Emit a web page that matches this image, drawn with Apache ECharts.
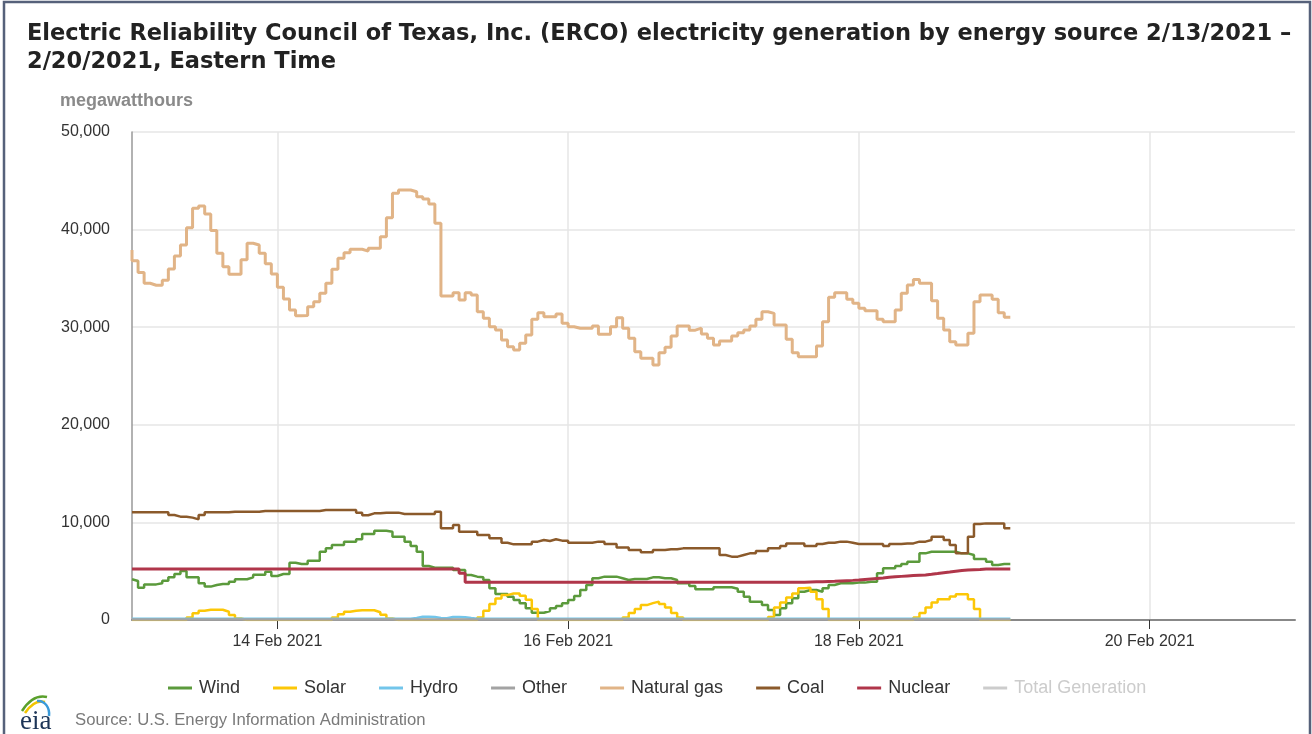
<!DOCTYPE html>
<html>
<head>
<meta charset="utf-8">
<title>ERCO electricity generation by energy source</title>
<script src="https://cdn.jsdelivr.net/npm/echarts@6/dist/echarts.min.js"></script>
<style>
  html, body { margin: 0; padding: 0; background: #fff; }
  #chart { width: 1312px; height: 734px; }
</style>
</head>
<body>
<div id="chart"></div>
<script>
// hourly values, hour ending, index 0 = 13 Feb 2021 00:00 Eastern
var hourLabels = ['14 Feb 2021', '16 Feb 2021', '18 Feb 2021', '20 Feb 2021']
var labelHours = [24, 72, 120, 168]

var naturalGas = [
  37900, 36800, 35600, 34500, 34300, 34300, 34800, 35960, 37300, 38420,
  40200, 42180, 42420, 41600, 39900, 37570, 36200, 35420, 35420, 36900,
  38600, 38420, 37570, 36500, 35450, 34090, 32890, 31760, 31180, 31200,
  32100, 32620, 33470, 34500, 35930, 37060, 37640, 37980, 37980, 37800,
  38080, 38080, 39270, 41220, 43720, 44060, 44060, 43880, 43370, 43130,
  42620, 40640, 33200, 33200, 33540, 32790, 33540, 33300, 31590, 30910,
  30050, 29710, 28690, 28000, 27660, 28350, 29200, 30810, 31490, 31080,
  31080, 31350, 30400, 30050, 29890, 29890, 29890, 30120, 29270, 29270,
  30050, 30980, 29890, 28860, 27490, 26810, 26810, 26130, 27390, 27940,
  29100, 30120, 30120, 29700, 29900, 29300, 28860, 28180, 28590, 28590,
  29100, 29440, 29710, 30120, 30810, 31590, 31420, 30230, 30230, 28760,
  27390, 26980, 26980, 26980, 28070, 30570, 33060, 33540, 33540, 32860,
  32450, 31930, 31690, 31690, 30810, 30570, 30570, 31760, 33470, 34320,
  34900, 34500, 34500, 32720, 30910, 29710, 28520, 28180, 28180, 29370,
  32620, 33300, 33300, 32860, 31490, 31010
]

var coal = [
  11030, 11030, 11030, 11030, 11030, 11030, 11030, 10760, 10590, 10590,
  10490, 10310, 10760, 11030, 11030, 11030, 11030, 11100, 11100, 11100,
  11100, 11100, 11170, 11170, 11170, 11170, 11170, 11170, 11170, 11170,
  11170, 11170, 11270, 11270, 11270, 11270, 11270, 11270, 11000, 10730,
  10930, 10930, 11000, 11000, 11000, 10860, 10860, 10860, 10860, 10860,
  10860, 11100, 9390, 9390, 9730, 9050, 9050, 9050, 8710, 8710,
  8370, 8370, 7920, 7750, 7750, 7750, 7750, 8030, 8200, 8100,
  8270, 8130, 8130, 7920, 7920, 7920, 7920, 8030, 8030, 7780,
  7780, 7440, 7440, 7170, 7170, 6930, 6930, 7170, 7170, 7240,
  7240, 7340, 7340, 7340, 7340, 7340, 7340, 7340, 6660, 6490,
  6490, 6660, 6830, 6830, 7070, 7070, 7340, 7340, 7580, 7850,
  7850, 7850, 7580, 7580, 7790, 7920, 7920, 8030, 8030, 7920,
  7790, 7790, 7790, 7790, 7790, 7580, 7790, 7790, 7850, 7850,
  8030, 8030, 8200, 8540, 8540, 8200, 7680, 6830, 6830, 8540,
  9840, 9900, 9900, 9900, 9900, 9390
]

var wind = [
  4170, 4000, 3310, 3650, 3650, 3760, 4030, 4370, 4710, 5020,
  4370, 4370, 3760, 3420, 3590, 3690, 3690, 3930, 4170, 4170,
  4370, 4640, 4640, 4950, 4510, 4710, 4710, 5870, 5740, 5740,
  6080, 6080, 7000, 7340, 7680, 7680, 8030, 8030, 8270, 8810,
  8810, 9150, 9150, 9050, 8540, 8540, 8030, 7580, 7000, 5530,
  5360, 5360, 5360, 5360, 5120, 5120, 4610, 4440, 4370, 4100,
  3250, 2660, 2660, 2390, 2050, 1710, 1200, 750, 750, 920,
  1200, 1430, 1710, 2050, 2460, 3070, 3590, 4270, 4440, 4440,
  4440, 4270, 4100, 4200, 4200, 4200, 4370, 4370, 4270, 4270,
  4100, 3760, 3760, 3490, 3140, 3140, 3140, 3350, 3350, 3350,
  3200, 2900, 2390, 1880, 1880, 1540, 1030, 510, 1200, 1710,
  2220, 2900, 3070, 3070, 2900, 3250, 3590, 3760, 3760, 3760,
  3830, 3830, 3930, 3930, 4780, 5290, 5290, 5530, 5740, 5980,
  5980, 6830, 7000, 7000, 7000, 7000, 7000, 6830, 6830, 6660,
  6250, 6250, 5980, 5640, 5740, 5740
]

var nuclear = [
  5230, 5230, 5230, 5230, 5230, 5230, 5230, 5230, 5230, 5230,
  5230, 5230, 5230, 5230, 5230, 5230, 5230, 5230, 5230, 5230,
  5230, 5230, 5230, 5230, 5230, 5230, 5230, 5230, 5230, 5230,
  5230, 5230, 5230, 5230, 5230, 5230, 5230, 5230, 5230, 5230,
  5230, 5230, 5230, 5230, 5230, 5230, 5230, 5230, 5230, 5230,
  5230, 5230, 5230, 5230, 5230, 4800, 3880, 3880, 3880, 3880,
  3880, 3880, 3880, 3880, 3880, 3880, 3880, 3880, 3880, 3880,
  3880, 3880, 3880, 3880, 3880, 3880, 3880, 3880, 3880, 3880,
  3880, 3880, 3880, 3880, 3880, 3880, 3880, 3880, 3880, 3880,
  3880, 3880, 3880, 3880, 3880, 3880, 3880, 3880, 3880, 3880,
  3880, 3880, 3880, 3880, 3880, 3880, 3880, 3880, 3880, 3880,
  3880, 3880, 3900, 3920, 3930, 3950, 3970, 4000, 4030, 4060,
  4100, 4150, 4200, 4250, 4300, 4370, 4420, 4470, 4510, 4550,
  4580, 4610, 4680, 4760, 4850, 4920, 5000, 5070, 5120, 5150,
  5180, 5220, 5220, 5220, 5220, 5220
]

var solar = [
  0, 0, 0, 0, 0, 0, 0, 0, 0, 0,
  250, 700, 950, 1050, 1050, 1050, 850, 500, 150, 0,
  0, 0, 0, 0, 0, 0, 0, 0, 0, 0,
  0, 0, 0, 0, 250, 600, 850, 950, 1000, 1000,
  1000, 800, 550, 150, 0, 0, 0, 0, 0, 0,
  0, 0, 0, 0, 0, 0, 0, 0, 260, 950,
  1630, 2200, 2550, 2720, 2720, 2480, 2070, 1120, 0, 0,
  0, 0, 0, 0, 0, 0, 0, 0, 0, 0,
  0, 0, 260, 710, 1120, 1530, 1730, 1880, 1630, 1290,
  710, 260, 0, 0, 0, 0, 0, 0, 0, 0,
  0, 0, 0, 0, 0, 0, 300, 1290, 1800, 2300,
  2720, 3250, 3300, 2900, 2130, 1120, 0, 0, 0, 0,
  0, 0, 0, 0, 0, 0, 0, 0, 0, 0,
  260, 710, 1290, 1800, 2130, 2130, 2400, 2640, 2640, 2130,
  1120, 0, 0, 0, 0, 0
]

var hydro = [
  130, 130, 130, 130, 130, 130, 130, 130, 130, 130,
  130, 130, 130, 130, 130, 130, 130, 130, 130, 130,
  130, 130, 130, 130, 130, 130, 130, 130, 130, 130,
  130, 130, 130, 130, 130, 130, 130, 130, 130, 130,
  130, 130, 130, 130, 130, 130, 130, 200, 330, 330,
  300, 200, 180, 300, 300, 280, 200, 130, 130, 130,
  130, 130, 130, 130, 130, 130, 130, 130, 130, 130,
  130, 130, 130, 130, 130, 130, 130, 130, 130, 130,
  130, 130, 130, 130, 130, 130, 130, 130, 130, 130,
  130, 130, 130, 130, 130, 130, 130, 130, 130, 130,
  130, 130, 130, 130, 130, 130, 130, 130, 130, 130,
  130, 130, 130, 130, 130, 130, 130, 130, 130, 130,
  130, 130, 130, 130, 130, 130, 130, 130, 130, 130,
  130, 130, 130, 130, 130, 130, 130, 130, 130, 130,
  130, 130, 130, 130, 130, 130
]

var other = [
  60, 60, 60, 60, 60, 60, 60, 60, 60, 60,
  60, 60, 60, 60, 60, 60, 60, 60, 60, 60,
  60, 60, 60, 60, 60, 60, 60, 60, 60, 60,
  60, 60, 60, 60, 60, 60, 60, 60, 60, 60,
  60, 60, 60, 60, 60, 60, 60, 60, 60, 60,
  60, 60, 60, 60, 60, 60, 60, 60, 60, 60,
  60, 60, 60, 60, 60, 60, 60, 60, 60, 60,
  60, 60, 60, 60, 60, 60, 60, 60, 60, 60,
  60, 60, 60, 60, 60, 60, 60, 60, 60, 60,
  60, 60, 60, 60, 60, 60, 60, 60, 60, 60,
  60, 60, 60, 60, 60, 60, 60, 60, 60, 60,
  60, 60, 60, 60, 60, 60, 60, 60, 60, 60,
  60, 60, 60, 60, 60, 60, 60, 60, 60, 60,
  60, 60, 60, 60, 60, 60, 60, 60, 60, 60,
  60, 60, 60, 60, 60, 60
]

var totalGeneration = []

var chart = echarts.init(document.getElementById('chart'))

function toPoints (arr) {
  return arr.map(function (v, i) { return [i, v] })
}

function lineSeries (name, data, color, width) {
  return {
    name: name,
    type: 'line',
    step: 'start',
    showSymbol: false,
    symbol: 'none',
    data: toPoints(data),
    itemStyle: { color: color },
    lineStyle: { color: color, width: width || 2.5 }
  }
}

var option = {
  animation: false,
  backgroundColor: '#fff',
  textStyle: { fontFamily: 'Liberation Sans, Arial, sans-serif' },
  title: [
    {
      text: 'Electric Reliability Council of Texas, Inc. (ERCO) electricity generation by energy source 2/13/2021 –\n2/20/2021, Eastern Time',
      left: 27,
      top: 20,
      padding: 0,
      textStyle: { fontFamily: 'DejaVu Sans', fontSize: 22.5, fontWeight: 'bold', color: '#222', lineHeight: 28 }
    },
    {
      text: 'megawatthours',
      left: 60,
      top: 92,
      padding: 0,
      textStyle: { fontSize: 18, fontWeight: 'bold', color: '#8a8a8a' }
    }
  ],
  legend: {
    left: 168,
    top: 679,
    padding: 0,
    itemWidth: 24,
    itemHeight: 3,
    itemGap: 33,
    icon: 'rect',
    textStyle: { fontSize: 18, color: '#333', padding: [0, 0, 0, 2] },
    inactiveColor: '#cccccc',
    selected: { 'Total Generation': false },
    data: ['Wind', 'Solar', 'Hydro', 'Other', 'Natural gas', 'Coal', 'Nuclear', 'Total Generation']
  },
  grid: { left: 132, right: 17, top: 132, bottom: 114 },
  xAxis: {
    type: 'value',
    min: 0,
    max: 192,
    axisLine: { show: true, lineStyle: { color: '#888', width: 2 } },
    axisTick: { show: true, length: 9, customValues: labelHours, lineStyle: { color: '#333', width: 1 } },
    axisLabel: {
      customValues: labelHours,
      margin: 14,
      fontSize: 16,
      color: '#333',
      formatter: function (v) { return hourLabels[labelHours.indexOf(v)] || '' }
    },
    splitLine: { show: true, lineStyle: { color: '#e6e6e6', width: 1.5 } }
  },
  yAxis: {
    type: 'value',
    min: 0,
    max: 50000,
    interval: 10000,
    axisLine: { show: true, lineStyle: { color: '#999', width: 1.5 } },
    axisTick: { show: false },
    axisLabel: {
      margin: 22,
      fontSize: 16,
      color: '#333',
      formatter: function (v) { return v.toLocaleString('en-US') }
    },
    splitLine: { lineStyle: { color: '#e6e6e6', width: 1.5 } }
  },
  graphic: [
    {
      type: 'rect',
      silent: true,
      shape: { x: 4, y: 2, width: 1306, height: 740 },
      style: { fill: null, stroke: '#56617a', lineWidth: 2.5 }
    },
    {
      type: 'text',
      left: 75,
      top: 712,
      style: { text: 'Source: U.S. Energy Information Administration', fill: '#7a7a7a', font: '16.7px Liberation Sans, Arial, sans-serif' }
    },
    {
      type: 'text',
      left: 20,
      top: 708,
      style: { text: 'eia', fill: '#1d3557', font: '27px Liberation Serif, serif' }
    },
    {
      type: 'bezierCurve',
      silent: true,
      shape: { x1: 22, y1: 711, x2: 47, y2: 697, cpx1: 29, cpy1: 700, cpx2: 38, cpy2: 695 },
      style: { stroke: '#5aa02c', lineWidth: 2.5, fill: null }
    },
    {
      type: 'bezierCurve',
      silent: true,
      shape: { x1: 25, y1: 713, x2: 45, y2: 702, cpx1: 31, cpy1: 704, cpx2: 38, cpy2: 700 },
      style: { stroke: '#f2c500', lineWidth: 2.5, fill: null }
    },
    {
      type: 'bezierCurve',
      silent: true,
      shape: { x1: 37, y1: 701, x2: 49, y2: 716, cpx1: 45, cpy1: 700, cpx2: 50, cpy2: 708 },
      style: { stroke: '#3a9ad9', lineWidth: 2.5, fill: null }
    }
  ],
  series: [
    lineSeries('Wind', wind, '#5b9a3c'),
    lineSeries('Solar', solar, '#fcc707'),
    lineSeries('Hydro', hydro, '#72c5ea'),
    lineSeries('Other', other, '#a3a3a3'),
    lineSeries('Natural gas', naturalGas, '#e1b487', 3),
    lineSeries('Coal', coal, '#8b5a2b'),
    lineSeries('Nuclear', nuclear, '#b0364a', 3),
    lineSeries('Total Generation', totalGeneration, '#cccccc')
  ]
}

chart.setOption(option)
</script>
</body>
</html>
